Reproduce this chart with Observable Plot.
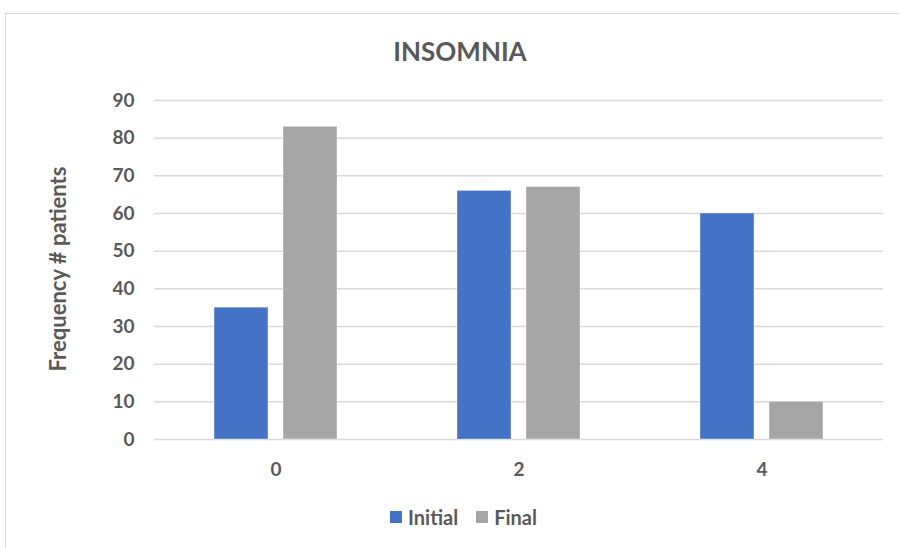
<!DOCTYPE html>
<html>
<head>
<meta charset="utf-8">
<script src="https://cdn.jsdelivr.net/npm/d3@7"></script>
<script src="https://cdn.jsdelivr.net/npm/@observablehq/plot@0.6"></script>
<style>
  html, body { margin: 0; padding: 0; background: #fff; width: 899px; height: 548px; overflow: hidden; }
  body { font-family: Lato, "Open Sans", sans-serif; color: #595959; position: relative; }
  #frame { position: absolute; left: 5px; top: 13px; width: 900px; height: 560px; border: 1px solid #d9d9d9; box-sizing: border-box; }
  #title { position: absolute; left: 300px; width: 320px; top: 36px; text-align: center; font-size: 26px; font-weight: bold; line-height: 30px; }
  #ylabel { position: absolute; left: 58px; top: 269px; transform: translate(-50%, -50%) rotate(-90deg); white-space: nowrap; font-size: 22px; font-weight: bold; line-height: 26px; }
  #chart { position: absolute; left: 0; top: 80px; }
  #legend { position: absolute; left: 390px; top: 505px; display: flex; align-items: center; font-size: 20px; font-weight: bold; line-height: 24px; }
  .sw { display: inline-block; width: 12px; height: 12px; margin-right: 6px; }
  .item { display: flex; align-items: center; margin-right: 18px; }
</style>
</head>
<body>
<div id="frame"></div>
<div id="title">INSOMNIA</div>
<div id="ylabel">Frequency # patients</div>
<div id="chart"></div>
<div id="legend"></div>
<script>
const categories = ["0", "2", "4"];
const series = ["Initial", "Final"];
const initialValues = [35, 66, 60];
const finalValues = [83, 67, 10];
const yTicks = [0, 10, 20, 30, 40, 50, 60, 70, 80, 90];
const colors = ["#4472C4", "#A5A5A5"];

const table = [];
categories.forEach((c, i) => {
  table.push({category: c, series: "Initial", value: initialValues[i]});
  table.push({category: c, series: "Final", value: finalValues[i]});
});

const chart = Plot.plot({
  width: 899,
  height: 409,
  marginLeft: 153,
  marginRight: 15,
  marginTop: 20,
  marginBottom: 50,
  style: {fontFamily: "Lato, 'Open Sans', sans-serif", fontSize: "19px", fontWeight: "bold", color: "#595959", background: "transparent", overflow: "visible"},
  fx: {domain: categories, padding: 0, label: null},
  x: {domain: series, paddingInner: 0.214, paddingOuter: 0.848, axis: null},
  y: {domain: [0, 90], label: null},
  color: {domain: series, range: colors},
  marks: [
    Plot.gridY(yTicks, {stroke: "#d9d9d9", strokeOpacity: 1, strokeWidth: 1.5}),
    Plot.barY(table, {fx: "category", x: "series", y: "value", fill: "series", stroke: "#ffffff", strokeOpacity: 0.4, strokeWidth: 1}),
    Plot.axisY(yTicks, {tickSize: 0, tickPadding: 20, label: null, fontSize: 19}),
    Plot.axisFx({anchor: "bottom", tickSize: 0, tickPadding: 23, label: null, fontSize: 19})
  ]
});
document.getElementById("chart").appendChild(chart);

const legend = document.getElementById("legend");
series.forEach((s, i) => {
  const item = document.createElement("div");
  item.className = "item";
  const sw = document.createElement("span");
  sw.className = "sw";
  sw.style.background = colors[i];
  item.appendChild(sw);
  item.appendChild(document.createTextNode(s));
  legend.appendChild(item);
});
</script>
</body>
</html>
